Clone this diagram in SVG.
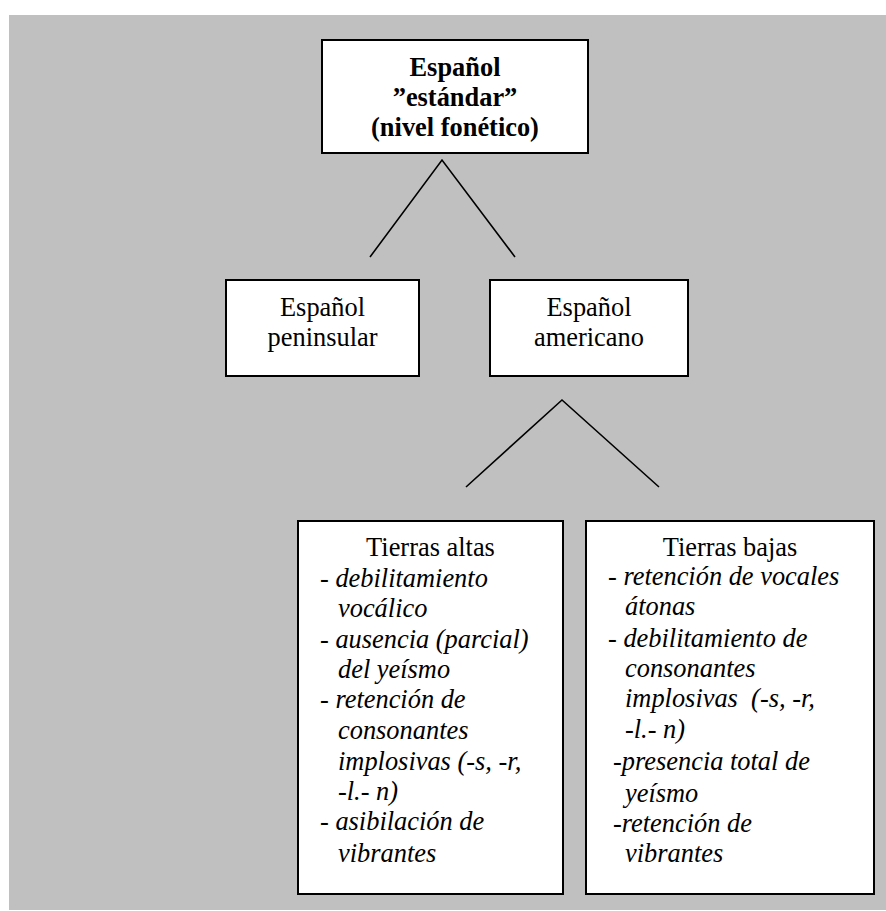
<svg xmlns="http://www.w3.org/2000/svg" width="886" height="911" viewBox="0 0 886 911">
<style>
.box{fill:#fff;stroke:#000;stroke-width:2}
text{font-family:'Liberation Serif','Times New Roman',Times,serif;font-size:26.4px;fill:#000}
.b{font-weight:bold}
.c{text-anchor:middle}
.i{font-style:italic}
.ln{stroke:#000;stroke-width:1.6;fill:none}
</style>
<rect x="9" y="15" width="877" height="895" fill="#c0c0c0"/>
<g id="connectors">
<polyline class="ln" points="370,257 442,160 515,257"/>
<polyline class="ln" points="466,487 562,400 659,487"/>
</g>
<g id="root" font-family="Liberation Serif, serif">
<rect class="box" x="322" y="40" width="266" height="113"/>
<text class="b c" x="455" y="76">Español</text>
<text class="b c" x="455" y="106">”estándar”</text>
<text class="b c" x="455" y="136">(nivel fonético)</text>
</g>
<g id="peninsular">
<rect class="box" x="226" y="280" width="193" height="96"/>
<text class="c" x="322.5" y="316">Español</text>
<text class="c" x="322.5" y="346">peninsular</text>
</g>
<g id="americano">
<rect class="box" x="490" y="280" width="198" height="96"/>
<text class="c" x="589" y="316">Español</text>
<text class="c" x="589" y="346">americano</text>
</g>
<g id="altas">
<rect class="box" x="298" y="521" width="265" height="373"/>
<text class="c" x="430.5" y="556">Tierras altas</text>
<text x="320" y="587">- <tspan class="i">debilitamiento</tspan></text>
<text class="i" x="338" y="617">vocálico</text>
<text x="320" y="648">- <tspan class="i">ausencia (parcial)</tspan></text>
<text class="i" x="338" y="678">del yeísmo</text>
<text x="320" y="708">- <tspan class="i">retención de</tspan></text>
<text class="i" x="338" y="739">consonantes</text>
<text class="i" x="338" y="770">implosivas (-s, -r,</text>
<text class="i" x="338" y="800">-l.- n)</text>
<text x="320" y="830">- <tspan class="i">asibilación de</tspan></text>
<text class="i" x="338" y="862">vibrantes</text>
</g>
<g id="bajas">
<rect class="box" x="586" y="521" width="288" height="373"/>
<text class="c" x="730" y="556">Tierras bajas</text>
<text x="608" y="585">- <tspan class="i">retención de vocales</tspan></text>
<text class="i" x="625" y="615">átonas</text>
<text x="608" y="647">- <tspan class="i">debilitamiento de</tspan></text>
<text class="i" x="625" y="677">consonantes</text>
<text class="i" x="625" y="707" xml:space="preserve">implosivas  (-s, -r,</text>
<text class="i" x="625" y="738">-l.- n)</text>
<text class="i" x="613" y="770">-presencia total de</text>
<text class="i" x="625" y="802">yeísmo</text>
<text class="i" x="613" y="832">-retención de</text>
<text class="i" x="625" y="862">vibrantes</text>
</g>
</svg>
